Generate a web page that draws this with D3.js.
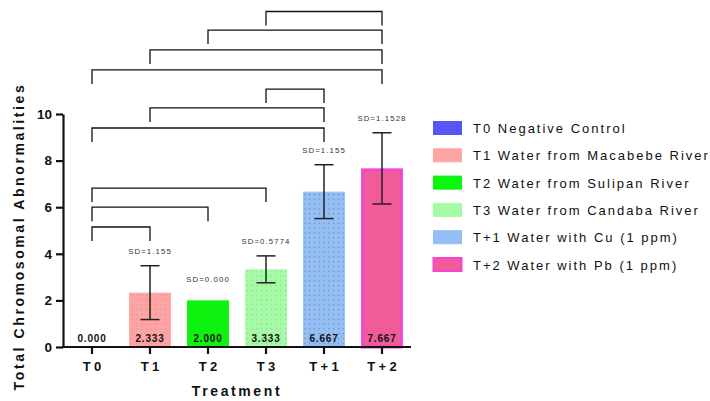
<!DOCTYPE html>
<html>
<head>
<meta charset="utf-8">
<script src="https://cdn.jsdelivr.net/npm/d3@7"></script>
<style>
  body { margin: 0; background: #fff; }
  svg { font-family: "Liberation Sans", Arial, sans-serif; }
</style>
</head>
<body>
<script>
// chart values
const categories = ["T0", "T1", "T2", "T3", "T+1", "T+2"];
const means = [0, 2.333, 2.0, 3.333, 6.667, 7.667];
const errors = [0, 1.155, 0, 0.5774, 1.155, 1.528];
const meanLabels = ["0.000", "2.333", "2.000", "3.333", "6.667", "7.667"];
const sdLabels = [null, "SD=1.155", "SD=0.000", "SD=0.5774", "SD=1.155", "SD=1.1528"];
const legendLabels = [
  "T0 Negative Control",
  "T1 Water from Macabebe River",
  "T2 Water from Sulipan River",
  "T3 Water from Candaba River",
  "T+1 Water with Cu (1 ppm)",
  "T+2 Water with Pb (1 ppm)"
];
const fills = ["#5656f8", "#ffa3a3", "#0cf50c", "#a6fba6", "#94bff6", "#f25a98"];
const strokes = ["#5656f8", "#ffa3a3", "#0cf50c", "#a6fba6", "#94bff6", "#f046d2"];
const yTicks = [0, 2, 4, 6, 8, 10];
// significance brackets: [from, to, level]
const brackets = [
  ["T0", "T1", 5.15], ["T0", "T2", 6.0], ["T0", "T3", 6.82],
  ["T0", "T+1", 9.4], ["T1", "T+1", 10.26], ["T3", "T+1", 11.07],
  ["T0", "T+2", 11.89], ["T1", "T+2", 12.75], ["T2", "T+2", 13.6], ["T3", "T+2", 14.4]
];

const width = 710, height = 401;
const margin = {left: 63, right: 299, top: 114, bottom: 54};

const svg = d3.select("body").append("svg")
  .attr("width", width)
  .attr("height", height);

const defs = svg.append("defs");
fills.forEach((c, i) => {
  const p = defs.append("pattern")
    .attr("id", "dots" + i)
    .attr("patternUnits", "userSpaceOnUse")
    .attr("width", 4.8).attr("height", 4.8);
  p.append("rect").attr("width", 4.8).attr("height", 4.8).attr("fill", c);
  p.append("rect").attr("x", 2).attr("y", 2).attr("width", 1).attr("height", 1)
    .attr("fill", i == 4 ? "#555" : "#888").attr("opacity", i == 4 ? 0.8 : 0.6);
});

const x = d3.scaleBand()
  .domain(categories)
  .range([margin.left, width - margin.right])
  .paddingInner(0.28)
  .paddingOuter(0.14);

const y = d3.scaleLinear()
  .domain([0, 10])
  .range([height - margin.bottom, margin.top]);

const cx = d => x(d) + x.bandwidth() / 2;

// bars
svg.append("g")
  .selectAll("rect")
  .data(categories)
  .join("rect")
    .attr("x", (d, i) => x(d) + (i == 5 ? 1.5 : 0.5))
    .attr("y", (d, i) => y(means[i]) + (i == 5 ? 1.5 : 0.5))
    .attr("width", (d, i) => x.bandwidth() - (i == 5 ? 3 : 1))
    .attr("height", (d, i) => Math.max(0, y(0) - y(means[i]) - (i == 5 ? 1.5 : 0.5)))
    .attr("fill", (d, i) => `url(#dots${i})`)
    .attr("stroke", (d, i) => strokes[i])
    .attr("stroke-width", (d, i) => i == 5 ? 3 : 1);

// error bars
const eb = svg.append("g").attr("stroke", "#222").attr("stroke-width", 1.5);
categories.forEach((c, i) => {
  if (errors[i] == 0) return;
  const top = y(means[i] + errors[i]), bot = y(means[i] - errors[i]);
  eb.append("line").attr("x1", cx(c)).attr("x2", cx(c)).attr("y1", top).attr("y2", bot);
  eb.append("line").attr("x1", cx(c) - 9.5).attr("x2", cx(c) + 9.5).attr("y1", top).attr("y2", top);
  eb.append("line").attr("x1", cx(c) - 9.5).attr("x2", cx(c) + 9.5).attr("y1", bot).attr("y2", bot);
});

// SD labels
svg.append("g")
  .selectAll("text")
  .data(categories)
  .join("text")
    .attr("x", d => cx(d))
    .attr("y", (d, i) => y(means[i] + errors[i]) - (errors[i] == 0 ? 18 : 12))
    .attr("text-anchor", "middle")
    .attr("font-size", 7.8)
    .attr("letter-spacing", 1.1)
    .attr("fill", "#333")
    .text((d, i) => sdLabels[i]);

// value labels
svg.append("g")
  .selectAll("text")
  .data(categories)
  .join("text")
    .attr("x", d => cx(d))
    .attr("y", y(0) - 5)
    .attr("text-anchor", "middle")
    .attr("font-size", 10)
    .attr("font-weight", "bold")
    .attr("letter-spacing", 0.8)
    .attr("fill", "#111")
    .text((d, i) => meanLabels[i]);

// brackets
const br = svg.append("g").attr("stroke", "#111").attr("stroke-width", 1.3).attr("fill", "none");
brackets.forEach(([a, b, lv]) => {
  const yl = y(lv), drop = 14;
  br.append("path")
    .attr("d", `M${cx(a)},${yl + drop}V${yl}H${cx(b)}V${yl + drop}`);
});

// axes
const xAxis = svg.append("g")
  .attr("transform", `translate(0,${y(0)})`)
  .call(d3.axisBottom(x).tickSize(7).tickSizeOuter(0).tickPadding(8));
xAxis.select(".domain").attr("stroke-width", 2.2).attr("stroke", "#111")
  .attr("d", `M${margin.left - 1},0H${width - margin.right}`);
xAxis.selectAll(".tick line").attr("stroke-width", 2.2).attr("stroke", "#111");
xAxis.selectAll(".tick text")
  .attr("font-size", 13).attr("font-weight", "bold").attr("letter-spacing", 3.4)
  .attr("dx", 1.7)
  .attr("fill", "#111").attr("font-family", "Liberation Sans, Arial, sans-serif");

const yAxis = svg.append("g")
  .attr("transform", `translate(${margin.left},0)`)
  .call(d3.axisLeft(y).tickValues(yTicks).tickSize(7).tickSizeOuter(0).tickPadding(4));
yAxis.select(".domain").attr("stroke-width", 2.2).attr("stroke", "#111");
yAxis.selectAll(".tick line").attr("stroke-width", 2.2).attr("stroke", "#111");
yAxis.selectAll(".tick text")
  .attr("font-size", 13.5).attr("font-weight", "bold")
  .attr("fill", "#111").attr("font-family", "Liberation Sans, Arial, sans-serif");

// axis titles
svg.append("text")
  .attr("x", 237)
  .attr("y", 396)
  .attr("text-anchor", "middle")
  .attr("font-size", 14)
  .attr("font-weight", "bold")
  .attr("letter-spacing", 2.6)
  .attr("fill", "#111")
  .text("Treatment");

svg.append("text")
  .attr("transform", `translate(24,${(y(0) + y(10)) / 2 + 6}) rotate(-90)`)
  .attr("text-anchor", "middle")
  .attr("font-size", 14)
  .attr("font-weight", "bold")
  .attr("letter-spacing", 2.6)
  .attr("fill", "#111")
  .text("Total Chromosomal Abnormalities");

// legend
const legend = svg.append("g").attr("transform", "translate(433,128)");
const row = legend.selectAll("g")
  .data(legendLabels)
  .join("g")
    .attr("transform", (d, i) => `translate(0,${i * 27.3})`);
row.append("rect")
  .attr("x", 0.5).attr("y", -6.5)
  .attr("width", 28).attr("height", 13)
  .attr("fill", (d, i) => fills[i])
  .attr("stroke", (d, i) => strokes[i])
  .attr("stroke-width", (d, i) => i == 5 ? 2 : 1);
row.append("text")
  .attr("x", 40)
  .attr("y", 5)
  .attr("font-size", 13)
  .attr("letter-spacing", 2)
  .attr("fill", "#111")
  .text(d => d);
</script>
</body>
</html>
